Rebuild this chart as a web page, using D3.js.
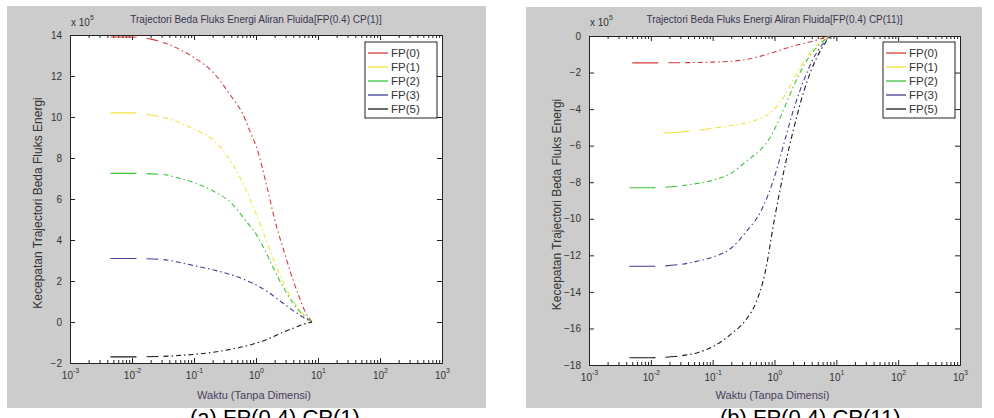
<!DOCTYPE html>
<html>
<head>
<meta charset="utf-8">
<script src="https://cdn.jsdelivr.net/npm/d3@7"></script>
<style>
  body { margin: 0; background: #fff; }
  svg { font-family: "Liberation Sans", Arial, sans-serif; }
  .tick text { fill: #333; }
</style>
</head>
<body>
<svg id="chart" width="994" height="418"></svg>
<script>
// legend names + colours
const seriesNames = ['FP(0)', 'FP(1)', 'FP(2)', 'FP(3)', 'FP(5)'];
const seriesColors = ['#d23a3a', '#f2e33a', '#3cc43c', '#3f3f96', '#1a1a1a'];

// panel (a) FP(0.4) CP(1), values in units of 1e5, [time, value]
const a_fp0 = [[0.0045,13.9],[0.01,13.9],[0.02,13.8],[0.05,13.4],[0.1,12.9],[0.2,12.2],[0.4,11.0],[0.6,10.2],[0.8,9.3],[1,8.6],[1.5,6.6],[2,5.0],[3,3.2],[4,2.0],[5,1.2],[6,0.6],[8,0]];
const a_fp1 = [[0.0045,10.2],[0.01,10.2],[0.02,10.1],[0.05,9.8],[0.1,9.4],[0.2,8.9],[0.4,7.8],[0.7,6.4],[1,5.3],[1.5,3.9],[2,2.9],[3,1.7],[4,1.0],[6,0.35],[8,0]];
const a_fp2 = [[0.0045,7.25],[0.01,7.25],[0.03,7.2],[0.06,7.0],[0.1,6.8],[0.2,6.4],[0.4,5.8],[0.7,4.9],[1,4.3],[1.5,3.3],[2,2.5],[3,1.5],[4,0.9],[6,0.3],[8,0]];
const a_fp3 = [[0.0045,3.1],[0.01,3.1],[0.03,3.05],[0.06,2.9],[0.1,2.75],[0.2,2.55],[0.4,2.3],[0.8,1.95],[1.5,1.5],[2.5,1.0],[4,0.55],[6,0.2],[8,0]];
const a_fp5 = [[0.0045,-1.7],[0.01,-1.7],[0.03,-1.68],[0.06,-1.63],[0.1,-1.58],[0.2,-1.48],[0.4,-1.33],[0.8,-1.12],[1.5,-0.85],[2.5,-0.55],[4,-0.3],[6,-0.1],[8,0]];

// panel (b) FP(0.4) CP(11)
const b_fp0 = [[0.005,-1.47],[0.01,-1.47],[0.03,-1.46],[0.1,-1.43],[0.3,-1.32],[0.6,-1.1],[1,-0.88],[2,-0.55],[4,-0.3],[6,-0.12],[8,0]];
const b_fp1 = [[0.016,-5.3],[0.03,-5.25],[0.06,-5.15],[0.1,-5.05],[0.2,-4.9],[0.4,-4.7],[0.6,-4.5],[1,-4.0],[1.5,-3.2],[2,-2.4],[3,-1.4],[4,-0.8],[6,-0.25],[8,0]];
const b_fp2 = [[0.0045,-8.3],[0.01,-8.3],[0.03,-8.2],[0.06,-8.05],[0.1,-7.9],[0.2,-7.5],[0.35,-6.85],[0.6,-6.2],[0.8,-5.7],[1,-5.1],[1.5,-3.8],[2,-2.8],[3,-1.6],[4,-0.95],[6,-0.3],[8,0]];
const b_fp3 = [[0.0045,-12.6],[0.01,-12.6],[0.03,-12.5],[0.06,-12.3],[0.1,-12.1],[0.2,-11.6],[0.35,-10.7],[0.6,-9.6],[1,-7.7],[1.5,-5.6],[2,-4.1],[3,-2.4],[4,-1.4],[6,-0.45],[8,0]];
const b_fp5 = [[0.0045,-17.6],[0.01,-17.6],[0.03,-17.5],[0.06,-17.3],[0.1,-17.0],[0.2,-16.3],[0.35,-15.5],[0.5,-14.6],[0.7,-13.0],[1,-10.0],[1.5,-7.0],[2,-5.2],[3,-3.0],[4,-1.8],[6,-0.6],[8,0]];

const xExponents = [-3, -2, -1, 0, 1, 2, 3];
const a_yTicks = [-2, 0, 2, 4, 6, 8, 10, 12, 14];
const b_yTicks = [0, -2, -4, -6, -8, -10, -12, -14, -16, -18];

const svg = d3.select('#chart');

// MATLAB '-.' look: a longer solid start, then dash-dot
const dash = '26,10,12,5,' + d3.range(60).map(() => '5,3,1.5,3').join(',');

const drawPanel = (p) => {
    const g = svg.append('g');
    g.append('rect')
        .attr('x', p.bg[0]).attr('y', p.bg[1])
        .attr('width', p.bg[2]).attr('height', p.bg[3])
        .attr('fill', '#cccccc');

    const x = d3.scaleLog().domain([1e-3, 1e3]).range(p.xr);
    const y = d3.scaleLinear().domain(p.yd).range(p.yr);

    g.append('rect')
        .attr('x', p.xr[0]).attr('y', p.yr[1])
        .attr('width', p.xr[1] - p.xr[0]).attr('height', p.yr[0] - p.yr[1])
        .attr('fill', '#fff');

    const majors = xExponents.map(e => Math.pow(10, e));
    const minors = [];
    xExponents.slice(0, -1).forEach(e => {
        d3.range(2, 10).forEach(k => minors.push(k * Math.pow(10, e)));
    });

    // bottom axis
    const bottom = g.append('g').attr('transform', `translate(0,${p.yr[0]})`)
        .call(d3.axisBottom(x).tickValues(majors).tickSizeInner(-5).tickSizeOuter(0).tickPadding(9).tickFormat(''));
    bottom.selectAll('.tick text').each(function(d) {
        const t = d3.select(this).attr('font-size', 10);
        t.append('tspan').text('10');
        t.append('tspan').attr('dy', -6).attr('font-size', 7).text(Math.round(Math.log10(d)));
    });
    g.append('g').attr('transform', `translate(0,${p.yr[0]})`)
        .call(d3.axisBottom(x).tickValues(minors).tickSizeInner(-3).tickSizeOuter(0).tickFormat(''));
    // top axis
    g.append('g').attr('transform', `translate(0,${p.yr[1]})`)
        .call(d3.axisTop(x).tickValues(majors).tickSizeInner(-5).tickSizeOuter(0).tickFormat(''));
    g.append('g').attr('transform', `translate(0,${p.yr[1]})`)
        .call(d3.axisTop(x).tickValues(minors).tickSizeInner(-3).tickSizeOuter(0).tickFormat(''));
    // left / right
    g.append('g').attr('transform', `translate(${p.xr[0]},0)`)
        .call(d3.axisLeft(y).tickValues(p.yTicks).tickSizeInner(-5).tickSizeOuter(0).tickPadding(8))
        .selectAll('text').attr('font-size', 10);
    g.append('g').attr('transform', `translate(${p.xr[1]},0)`)
        .call(d3.axisRight(y).tickValues(p.yTicks).tickSizeInner(-5).tickSizeOuter(0).tickFormat(''));
    g.selectAll('.domain').attr('stroke', '#222');
    g.selectAll('.tick line').attr('stroke', '#222');

    const line = d3.line().x(d => x(d[0])).y(d => y(d[1])).curve(d3.curveMonotoneX);
    p.series.forEach((s, i) => {
        g.append('path').datum(s)
            .attr('d', line)
            .attr('fill', 'none')
            .attr('stroke', seriesColors[i])
            .attr('stroke-width', 1.1)
            .attr('stroke-dasharray', dash);
    });

    // legend
    const lg = g.append('g');
    lg.append('rect')
        .attr('x', p.legend[0]).attr('y', p.legend[1])
        .attr('width', 72).attr('height', 76)
        .attr('fill', '#fff').attr('stroke', '#222').attr('stroke-width', 1);
    seriesNames.forEach((n, i) => {
        const ly = p.legend[1] + 11 + i * 14;
        lg.append('line')
            .attr('x1', p.legend[0] + 3).attr('x2', p.legend[0] + 23)
            .attr('y1', ly).attr('y2', ly)
            .attr('stroke', seriesColors[i]).attr('stroke-width', 1.3);
        lg.append('text')
            .attr('x', p.legend[0] + 26).attr('y', ly + 4)
            .attr('font-size', 11.5).attr('fill', '#333')
            .text(n);
    });

    const cx = (p.xr[0] + p.xr[1]) / 2;
    g.append('text').attr('x', cx).attr('y', 23)
        .attr('text-anchor', 'middle').attr('font-size', 10).attr('fill', '#3a3550')
        .text(p.title);
    const e = g.append('text').attr('x', p.xr[0] + 1).attr('y', 26)
        .attr('font-size', 10).attr('fill', '#333');
    e.append('tspan').text('x 10');
    e.append('tspan').attr('dy', -6).attr('font-size', 7).text('5');
    g.append('text').attr('x', cx - 2).attr('y', 399)
        .attr('text-anchor', 'middle').attr('font-size', 11).attr('fill', '#4a4060')
        .text('Waktu (Tanpa Dimensi)');
    g.append('text')
        .attr('transform', `translate(${p.xr[0] - 28},${(p.yr[0] + p.yr[1]) / 2 + 4}) rotate(-90)`)
        .attr('text-anchor', 'middle').attr('font-size', 12).attr('fill', '#333')
        .text('Kecepatan Trajectori Beda Fluks Energi');
    g.append('text').attr('x', p.caption[0]).attr('y', p.caption[1])
        .attr('font-size', 22).attr('fill', '#000')
        .text(p.captionText);
};

drawPanel({
    bg: [7, 6, 479, 402],
    xr: [70, 442], yr: [363, 35], yd: [-2, 14], yTicks: a_yTicks,
    series: [a_fp0, a_fp1, a_fp2, a_fp3, a_fp5],
    legend: [365, 42],
    title: 'Trajectori Beda Fluks Energi Aliran Fluida[FP(0.4) CP(1)]',
    caption: [190, 425], captionText: '(a) FP(0.4) CP(1)'
});

drawPanel({
    bg: [526, 7, 456, 401],
    xr: [589, 960], yr: [365, 36], yd: [-18, 0], yTicks: b_yTicks,
    series: [b_fp0, b_fp1, b_fp2, b_fp3, b_fp5],
    legend: [883, 42],
    title: 'Trajectori Beda Fluks Energi Aliran Fluida[FP(0.4) CP(11)]',
    caption: [720, 425], captionText: '(b) FP(0.4) CP(11)'
});
</script>
</body>
</html>
